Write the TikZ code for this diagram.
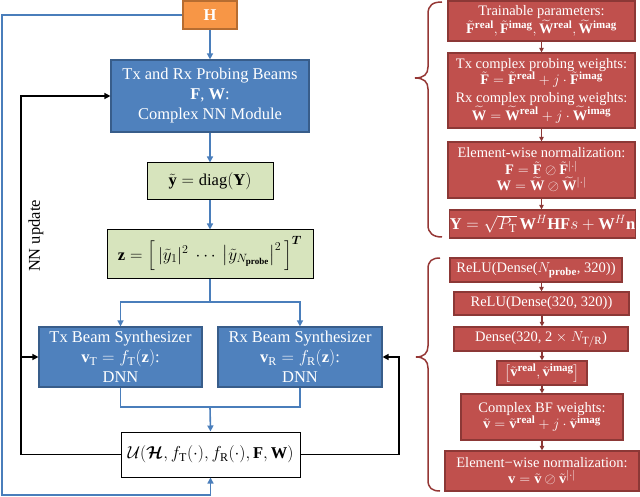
\documentclass[tikz,border=0pt]{standalone}
\usepackage{amsmath,amssymb}
\usepackage{fontspec}
\setmainfont{Liberation Serif}
\usepackage{bm}
\usetikzlibrary{arrows.meta,calc}
\DeclareMathSizes{16.5}{16.5}{12}{9}
\DeclareMathSizes{14.5}{14.5}{11}{8}
\definecolor{bluefill}{HTML}{4F81BD}
\definecolor{blueborder}{HTML}{385D8A}
\definecolor{blueline}{HTML}{4A7EBB}
\definecolor{greenfill}{HTML}{D7E4BD}
\definecolor{orangefill}{HTML}{F79646}
\definecolor{orangeborder}{HTML}{B66D31}
\definecolor{redfill}{HTML}{C0504D}
\definecolor{redborder}{HTML}{8C3836}
\definecolor{bracecol}{HTML}{953735}
\newcommand{\bigfnt}{\fontsize{16.5}{20}\selectfont}
\newcommand{\smlfnt}{\fontsize{14.5}{16.5}\selectfont}
\begin{document}
\begin{tikzpicture}[x=1pt,y=-1pt,
  bbox/.style={draw=blueborder, fill=bluefill, line width=1.2pt, text=white, align=center, inner sep=0pt, font=\bigfnt},
  gbox/.style={draw=black, fill=greenfill, line width=1pt, align=center, inner sep=0pt, font=\bigfnt},
  wbox/.style={draw=black, fill=white, line width=1pt, align=center, inner sep=0pt, font=\bigfnt},
  obox/.style={draw=orangeborder, fill=orangefill, line width=1.2pt, text=white, inner sep=0pt, font=\bigfnt\bfseries},
  rbox/.style={draw=redborder, fill=redfill, line width=1.2pt, text=white, align=center, inner sep=0pt, font=\smlfnt},
  bl/.style={draw=blueline, line width=1.6pt},
  bk/.style={draw=black, line width=1.6pt},
  rl/.style={draw=redborder, line width=1.2pt},
  tip/.style={-{Triangle[length=6pt,width=6pt]}},
  stip/.style={-{Triangle[length=4.5pt,width=4.5pt]}},
  brc/.style={draw=bracecol, line width=1.5pt}
]
\useasboundingbox (0,0) rectangle (640,497);

% ---------- left diagram ----------
\node[obox, minimum width=54pt, minimum height=28pt] (H) at (210,15) {H};
\node[bbox, minimum width=198pt, minimum height=72pt] (P) at (210,96)
  {Tx and Rx Probing Beams\\ \textbf{F}, \textbf{W}:\\ Complex NN Module};
\node[gbox, minimum width=126pt, minimum height=37pt] (Y) at (210,181.5)
  {$\tilde{\mathbf{y}}=\mathrm{diag}(\mathbf{Y})$};
\node[gbox, minimum width=206pt, minimum height=48pt] (Z) at (210,254)
  {$\mathbf{z}=\Big[\,|\tilde{y}_1|^2\ \cdots\ \big|\tilde{y}_{N_{\mathbf{probe}}}\big|^2\,\Big]^{\bm{T}}$};
\node[bbox, minimum width=163pt, minimum height=60pt] (Tx) at (120.5,357)
  {Tx Beam Synthesizer\\ $\mathbf{v}_{\mathrm{T}}=f_{\mathrm{T}}(\mathbf{z})$:\\ DNN};
\node[bbox, minimum width=164pt, minimum height=60pt] (Rx) at (300,357)
  {Rx Beam Synthesizer\\ $\mathbf{v}_{\mathrm{R}}=f_{\mathrm{R}}(\mathbf{z})$:\\ DNN};
\node[wbox, minimum width=179pt, minimum height=45pt] (U) at (210.5,454.5)
  {$\mathcal{U}(\bm{\mathcal{H}},f_{\mathrm{T}}(\cdot),f_{\mathrm{R}}(\cdot),\mathbf{F},\mathbf{W})$};
\node[rotate=90, font=\bigfnt] (nn) at (36,236) {NN update};

\coordinate (c0) at (2,15);
\coordinate (c1) at (2,495);
\draw[bl,tip] (H.west) -- (c0) -- (c1) -| (U.south);
\draw[bl,tip] (H) -- (P);
\draw[bl,tip] (P) -- (Y);
\draw[bl,tip] (Y) -- (Z);
\coordinate (s1) at (210,302);
\draw[bl] (Z.south) -- (s1);
\draw[bl,tip] (s1) -| (Tx.north);
\draw[bl,tip] (s1) -| (Rx.north);
\coordinate (m1) at (210,407);
\draw[bl] (Tx.south) |- (m1);
\draw[bl] (Rx.south) |- (m1);
\draw[bl,tip] (m1) -- (U.north);

\coordinate (k1) at (21,96);
\draw[bk,tip] (U.west) -| (k1) -- (P.west);
\draw[bk,tip] (Tx.west -| k1) -- (Tx.west);
\coordinate (k2) at (399,357);
\draw[bk,tip] (U.east) -| (k2) -- (Rx.east);

% ---------- right top group ----------
\node[rbox, minimum width=187pt, minimum height=40pt] (R1) at (541.5,21)
  {Trainable parameters:\\ $\tilde{\mathbf{F}}^{\mathbf{real}},\tilde{\mathbf{F}}^{\mathbf{imag}},\widetilde{\mathbf{W}}^{\mathbf{real}},\widetilde{\mathbf{W}}^{\mathbf{imag}}$};
\node[rbox, minimum width=187pt, minimum height=75pt] (R2) at (541.5,90.5)
  {Tx complex probing weights:\\ $\tilde{\mathbf{F}}=\tilde{\mathbf{F}}^{\mathbf{real}}+j\cdot\tilde{\mathbf{F}}^{\mathbf{imag}}$\\[1pt]
   Rx complex probing weights:\\ $\widetilde{\mathbf{W}}=\widetilde{\mathbf{W}}^{\mathbf{real}}+j\cdot\widetilde{\mathbf{W}}^{\mathbf{imag}}$};
\node[rbox, minimum width=187pt, minimum height=56pt] (R3) at (541.5,170)
  {Element-wise normalization:\\ $\mathbf{F}=\tilde{\mathbf{F}}\oslash\tilde{\mathbf{F}}^{|\cdot|}$\\ $\mathbf{W}=\widetilde{\mathbf{W}}\oslash\widetilde{\mathbf{W}}^{|\cdot|}$};
\node[rbox, minimum width=175pt, minimum height=28pt, font=\bigfnt] (R4) at (542.5,224)
  {$\mathbf{Y}=\sqrt{P_{\mathrm{T}}}\,\mathbf{W}^H\mathbf{H}\mathbf{F}s+\mathbf{W}^H\mathbf{n}$};
\draw[rl,stip] (R1.south) -- (R2.north);
\draw[rl,stip] (R2.south) -- (R3.north);
\draw[rl,stip] (R3.south) -- (R4.north -| R3.south);

% ---------- right bottom group ----------
\node[rbox, minimum width=172pt, minimum height=24pt] (B1) at (536,270)
  {ReLU(Dense($N_{\mathbf{probe}}$, 320))};
\node[rbox, minimum width=175pt, minimum height=23pt] (B2) at (541.5,303.5)
  {ReLU(Dense(320, 320))};
\node[rbox, minimum width=174pt, minimum height=24pt] (B3) at (541,339)
  {Dense(320, 2 $\times$ $N_{\mathrm{T/R}}$)};
\node[rbox, minimum width=90pt, minimum height=24pt] (B4) at (542,373)
  {$\big[\tilde{\mathbf{v}}^{\mathbf{real}},\tilde{\mathbf{v}}^{\mathbf{imag}}\big]$};
\node[rbox, minimum width=162pt, minimum height=46pt] (B5) at (542,417)
  {Complex BF weights:\\ $\tilde{\mathbf{v}}=\tilde{\mathbf{v}}^{\mathbf{real}}+j\cdot\tilde{\mathbf{v}}^{\mathbf{imag}}$};
\node[rbox, minimum width=194pt, minimum height=40pt] (B6) at (542,471)
  {Element−wise normalization:\\ $\mathbf{v}=\tilde{\mathbf{v}}\oslash\tilde{\mathbf{v}}^{|\cdot|}$};
\draw[rl,stip] (B1.south -| B2.north) -- (B2.north);
\draw[rl,stip] (B2.south -| B4.north) -- (B3.north -| B4.north);
\draw[rl,stip] (B3.south -| B4.north) -- (B4.north);
\draw[rl,stip] (B4.south) -- (B5.north);
\draw[rl,stip] (B5.south) -- (B6.north);

% ---------- braces ----------
\draw[brc] (442,2) .. controls (433,2) and (428,5) .. (428,14) -- (428,67)
  .. controls (428,74) and (424,78) .. (415,78)
  .. controls (424,78) and (428,82) .. (428,89) -- (428,225)
  .. controls (428,233) and (433,237) .. (442,237);
\draw[brc] (440,258) .. controls (432,258) and (428,261) .. (428,269) -- (428,346)
  .. controls (428,353) and (424,357) .. (416,357)
  .. controls (424,357) and (428,361) .. (428,368) -- (428,480)
  .. controls (428,488) and (432,491) .. (440,491);
\end{tikzpicture}
\end{document}
